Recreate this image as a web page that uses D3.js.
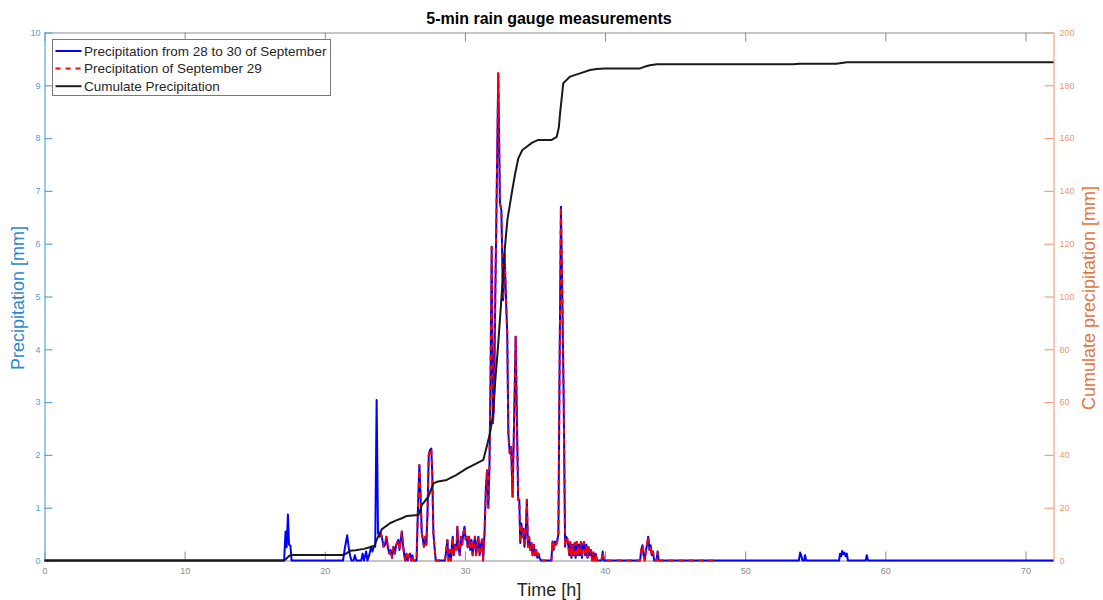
<html>
<script src='https://d3js.org/d3.v7.min.js'></script>
<style>
 body { margin: 0; background: #fff; }
 .chart text { font-family: "Liberation Sans", Arial, Helvetica, sans-serif; }
</style>
<body>
<svg class="chart" width=1103 height=600></svg>
<script>
// 5-min rainfall, [hour, mm] (zero runs only marked at their ends)
var rainPoints = [
 [0,0],[17.1,0],[17.2,0.55],[17.28,0.25],[17.37,0.87],[17.45,0.3],[17.55,0.28],[17.63,0],
 [21.3,0],[21.45,0.26],[21.6,0.48],[21.7,0.26],[21.8,0.1],[21.9,0],[22.05,0],[22.15,0.1],[22.25,0],
 [22.6,0],[22.7,0.13],[22.8,0],[22.95,0.17],[23.05,0],[23.2,0.13],[23.3,0.26],[23.4,0.17],[23.5,0.26],
 [23.6,0.26],[23.7,3.04],[23.8,0.52],[23.9,0.45],[24.0,0.52],[24.1,0.4],[24.2,0.26],[24.3,0.3],[24.4,0.45],
 [24.5,0.26],[24.6,0.13],[24.7,0.2],[24.8,0.05],[24.9,0.26],[25.0,0.13],[25.1,0.3],[25.25,0.39],[25.33,0.2],
 [25.5,0.55],[25.58,0.3],[25.67,0.1],[25.75,0],[25.83,0.13],[25.92,0],[26.0,0.1],[26.08,0.13],[26.17,0],
 [26.25,0.1],[26.33,0],[26.55,0],[26.65,1.0],[26.75,1.81],[26.83,1.27],[26.92,0.52],[27.0,0.4],[27.08,0.26],
 [27.17,0.45],[27.25,0.3],[27.33,0.9],[27.42,2.0],[27.5,2.09],[27.6,2.12],[27.67,1.65],[27.75,0.52],
 [27.83,0.26],[27.92,0],[28.58,0],[28.67,0.2],[28.75,0.39],[28.83,0],[28.92,0.2],[29.0,0],[29.08,0.3],
 [29.13,0.45],[29.2,0.1],[29.3,0.3],[29.4,0.2],[29.46,0.64],[29.55,0.25],[29.63,0.1],[29.72,0.45],[29.8,0.3],
 [29.89,0.52],[29.97,0.64],[30.05,0.4],[30.13,0.45],[30.2,0.25],[30.3,0.45],[30.38,0.2],[30.47,0.39],
 [30.55,0.1],[30.63,0.3],[30.72,0.45],[30.8,0.1],[30.88,0.3],[30.96,0.45],[31.05,0.1],[31.13,0.26],
 [31.22,0.4],[31.3,0],[31.4,0.52],[31.5,1.4],[31.58,1.71],[31.67,1.0],[31.75,1.78],[31.83,3.5],[31.91,5.94],
 [32.0,2.6],[32.08,3.0],[32.17,5.06],[32.27,7.0],[32.38,9.23],[32.5,6.77],[32.6,6.64],[32.72,4.93],
 [32.83,5.82],[32.95,4.8],[33.02,4.3],[33.1,2.41],[33.2,2.03],[33.3,2.15],[33.4,1.21],[33.5,2.5],
 [33.62,4.24],[33.72,2.5],[33.8,1.15],[33.88,1.15],[33.95,0.33],[34.03,0.7],[34.1,0.45],[34.18,0.6],
 [34.25,0.26],[34.33,0.5],[34.42,1.15],[34.5,0.26],[34.58,0.45],[34.67,0.2],[34.75,0.33],[34.83,0.1],
 [34.92,0.3],[35.0,0.1],[35.08,0.2],[35.17,0.05],[35.25,0.13],[35.33,0.05],[35.42,0],[36.17,0],
 [36.25,0.36],[36.33,0.2],[36.42,0.36],[36.5,0.3],[36.58,0.36],[36.67,0.5],[36.75,3.5],[36.85,6.7],
 [36.95,5.0],[37.05,3.0],[37.15,0.26],[37.22,0.45],[37.3,0.42],[37.37,0.3],[37.45,0.1],[37.52,0.35],
 [37.6,0.05],[37.67,0.3],[37.75,0.1],[37.83,0.33],[37.9,0.05],[37.97,0.35],[38.05,0.1],[38.12,0.3],
 [38.2,0.1],[38.27,0.35],[38.35,0.05],[38.42,0.3],[38.5,0.35],[38.58,0.1],[38.67,0.3],[38.75,0.05],
 [38.83,0.25],[38.92,0.1],[39.0,0.2],[39.08,0],[39.17,0.15],[39.25,0],[39.33,0.13],[39.42,0],[39.75,0],
 [39.83,0.17],[39.92,0],[42.5,0],[42.58,0.2],[42.67,0.29],[42.75,0.1],[42.83,0],[42.92,0.2],[43.0,0.3],
 [43.08,0.45],[43.17,0.2],[43.25,0.29],[43.33,0.1],[43.42,0.17],[43.5,0],[43.67,0],[43.75,0.17],[43.83,0],
 [48,0],[53.83,0],[53.92,0.15],[54.0,0.1],[54.08,0],[54.2,0],[54.27,0.1],[54.35,0],[56.7,0],[56.77,0.13],
 [56.85,0.08],[56.92,0.18],[57.0,0.12],[57.08,0.15],[57.17,0.08],[57.25,0.13],[57.33,0],[58.6,0],
 [58.68,0.1],[58.76,0],[72,0]
];

// cumulated rainfall, [hour, mm]
var cumulPoints = [
 [0,0],[17.1,0],[17.25,0.6],[17.4,1.5],[17.55,2.0],[17.65,2.1],[21.35,2.1],[21.6,2.9],[21.8,3.7],
 [22.2,3.9],[22.8,4.4],[23.2,5.0],[23.55,5.6],[23.7,7.8],[23.85,9.5],[24.06,11.8],[24.65,14.1],
 [25.1,15.2],[25.5,16.0],[25.85,16.9],[26.68,17.2],[26.92,21.0],[27.39,24.2],[27.75,29.2],[28.0,29.8],
 [28.7,30.5],[29.4,32.4],[30.13,34.9],[30.84,36.8],[31.31,38.1],[31.55,43],[31.79,48.2],[32.0,55],
 [32.15,67],[32.38,82.3],[32.63,101.2],[32.86,118.9],[33.03,129],[33.34,139.1],[33.6,147],[33.81,152.3],
 [34.1,155.5],[34.41,156.7],[34.8,158.3],[35.24,159.3],[36.19,159.3],[36.55,160.5],[36.7,164],
 [36.79,169.4],[37.02,180.8],[37.5,183.3],[38.21,184.5],[38.93,185.8],[39.4,186.2],[40.0,186.4],
 [42.5,186.4],[42.8,187.0],[43.2,187.6],[43.7,188.0],[53.4,188.0],[53.9,188.2],[56.5,188.2],
 [57.25,188.7],[72,188.7]
];

var dayStart = 24, dayEnd = 48;   // September 29
var xTicks = [0,10,20,30,40,50,60,70];
var leftTicks = [0,1,2,3,4,5,6,7,8,9,10];
var rightTicks = [0,20,40,60,80,100,120,140,160,180,200];
var legendLabels = ["Precipitation from 28 to 30 of September", "Precipitation of September 29", "Cumulate Precipitation"];

var plotLeft = 44.5, plotRight = 1053.5, plotTop = 32.5, plotBottom = 560.5;

var svg = d3.select("svg");

var xScale = d3.scaleLinear().domain([0,72]).range([plotLeft,plotRight]);
var yLeft = d3.scaleLinear().domain([0,10]).range([plotBottom,plotTop]);
var yRight = d3.scaleLinear().domain([0,200]).range([plotBottom,plotTop]);

// top frame line + ticks
var topAxis = svg.append("g")
  .attr("transform","translate(0,"+plotTop+")")
  .call(d3.axisTop(xScale).tickValues(xTicks).tickSizeInner(-9).tickSizeOuter(0).tickFormat(""));
topAxis.selectAll("path,line").attr("stroke","#8c8c8c");

var xAxis = svg.append("g")
  .attr("transform","translate(0,"+plotBottom+")")
  .call(d3.axisBottom(xScale).tickValues(xTicks).tickSizeInner(-9).tickSizeOuter(0).tickPadding(7));
xAxis.selectAll("path,line").attr("stroke","#8c8c8c");
xAxis.selectAll("text").attr("fill","#8a8a8a").style("font-size","9px");

var lAxis = svg.append("g")
  .attr("transform","translate("+plotLeft+",0)")
  .call(d3.axisLeft(yLeft).tickValues(leftTicks).tickSizeInner(-8).tickSizeOuter(0).tickPadding(4));
lAxis.selectAll("path,line").attr("stroke","#5aa6dc").attr("stroke-width",1.2);
lAxis.selectAll("text").attr("fill","#4d9fd9").style("font-size","9px");

var rAxis = svg.append("g")
  .attr("transform","translate("+plotRight+",0)")
  .call(d3.axisRight(yRight).tickValues(rightTicks).tickSizeInner(-9).tickSizeOuter(0).tickPadding(6));
rAxis.selectAll("path,line").attr("stroke","#f2a27c").attr("stroke-width",1.2);
rAxis.selectAll("text").attr("fill","#ee9a74").style("font-size","9px");

svg.selectAll(".domain").attr("stroke-width",1.2);

// series
var rainLine = d3.line().x(function(d){return xScale(d[0]);}).y(function(d){return yLeft(d[1]);});
var cumLine = d3.line().x(function(d){return xScale(d[0]);}).y(function(d){return yRight(d[1]);});
var dayPoints = rainPoints.filter(function(d){ return d[0] >= dayStart && d[0] <= dayEnd; });

svg.append("path").datum(rainPoints)
  .attr("d",rainLine).attr("fill","none").attr("stroke","#0000ff").attr("stroke-width",2)
  .attr("stroke-linejoin","round");
svg.append("path").datum(dayPoints)
  .attr("d",rainLine).attr("fill","none").attr("stroke","#ff0000").attr("stroke-width",2)
  .attr("stroke-dasharray","5,5").attr("stroke-linejoin","round");
svg.append("path").datum(cumulPoints)
  .attr("d",cumLine).attr("fill","none").attr("stroke","#1a1a1a").attr("stroke-width",2)
  .attr("stroke-linejoin","round");

// legend
var legend = svg.append("g").attr("transform","translate(52.5,39.5)");
legend.append("rect").attr("width",278).attr("height",56)
  .attr("fill","#fff").attr("stroke","#7a7a7a").attr("stroke-width",1);
var legStyles = [
  {stroke:"#0000ff", dash:null},
  {stroke:"#ff0000", dash:"5,5"},
  {stroke:"#1a1a1a", dash:null}
];
legendLabels.forEach(function(lab,i){
  var yy = 11.5 + i*17.6;
  legend.append("line").attr("x1",3).attr("x2",29).attr("y1",yy).attr("y2",yy)
    .attr("stroke",legStyles[i].stroke).attr("stroke-width",2)
    .attr("stroke-dasharray",legStyles[i].dash);
  legend.append("text").attr("x",31.5).attr("y",yy).attr("dy","0.35em")
    .style("font-size","13.5px").attr("fill","#262626").text(lab);
});

// titles
svg.append("text").attr("x",549).attr("y",24).attr("text-anchor","middle")
  .style("font-size","16px").style("font-weight","bold").attr("fill","#000")
  .text("5-min rain gauge measurements");
svg.append("text").attr("x",549).attr("y",596).attr("text-anchor","middle")
  .style("font-size","18px").attr("fill","#262626").text("Time [h]");
svg.append("text").attr("transform","translate(24,298) rotate(-90)").attr("text-anchor","middle")
  .style("font-size","18px").attr("fill","#2b8ad0").text("Precipitation [mm]");
svg.append("text").attr("transform","translate(1082,298) rotate(-90)").attr("text-anchor","middle")
  .attr("dy","0.7em").style("font-size","18px").attr("fill","#e3763f").text("Cumulate precipitation [mm]");
</script>
</body>
</html>
